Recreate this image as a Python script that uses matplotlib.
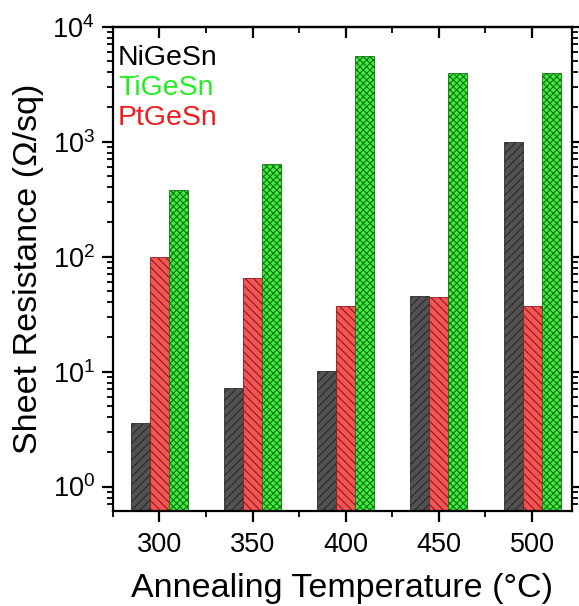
import numpy as np
import matplotlib
matplotlib.use('Agg')
import matplotlib.pyplot as plt
from matplotlib.ticker import FixedLocator, NullFormatter

# === Data ===
temps = ['300', '350', '400', '450', '500']
ni_gesn = [3.6, 7.2, 10.1, 45.8, 990]
pt_gesn = [100, 65, 37.3, 44.6, 37]
ti_gesn = [380, 640, 5560, 3940, 3940]

series_names = ['NiGeSn', 'TiGeSn', 'PtGeSn']
name_colors = ['#000000', '#22ee22', '#ee1c1c']

plt.rcParams['font.family'] = ['Liberation Sans', 'DejaVu Sans']
plt.rcParams['hatch.linewidth'] = 0.8

fig = plt.figure(figsize=(5.79, 6.06), dpi=100)
ax = fig.add_axes([0.195, 0.157, 0.793, 0.799])

x = np.arange(len(temps))
w = 0.204

ax.bar(x - w, ni_gesn, w, color='#525252', edgecolor='#2a2a2a', hatch='////', linewidth=0.6)
ax.bar(x, pt_gesn, w, color='#f45454', edgecolor='#8a1a1a', hatch='\\\\\\\\', linewidth=0.6)
ax.bar(x + w, ti_gesn, w, color='#3cf03c', edgecolor='#157015', hatch='xxxxx', linewidth=0.6)

ax.set_yscale('log')
ax.set_ylim(0.615, 1e4)
ax.set_xlim(-0.5, 4.43)

minor_x = np.arange(-0.5, 4.5, 1.0)
ax.set_xticks(x)
ax.set_xticklabels(temps)
ax.xaxis.set_minor_locator(FixedLocator(minor_x))

for s in ax.spines.values():
    s.set_linewidth(1.6)

ax.tick_params(axis='both', which='major', labelsize=19.5, width=1.6, length=8)
ax.tick_params(axis='both', which='minor', width=1.3, length=4.5)
ax.tick_params(axis='y', which='both', left=True, right=True, direction='out')
ax.tick_params(axis='x', which='both', bottom=True, direction='out')
ax.tick_params(axis='x', which='major', pad=7)
ax.tick_params(axis='y', which='major', pad=5)

# top ticks point inward
top = ax.secondary_xaxis('top')
top.set_xticks(x)
top.xaxis.set_minor_locator(FixedLocator(minor_x))
top.xaxis.set_major_formatter(NullFormatter())
top.tick_params(which='major', direction='in', width=1.6, length=8)
top.tick_params(which='minor', direction='in', width=1.3, length=4.5)
top.spines['top'].set_linewidth(1.6)

ax.set_xlabel('Annealing Temperature (°C)', fontsize=24.5, labelpad=11)
ax.set_ylabel('Sheet Resistance (Ω/sq)', fontsize=24.5, labelpad=6)

# legend as coloured text
for i, (name, c) in enumerate(zip(series_names, name_colors)):
    ax.text(0.011, 0.936 - i * 0.0625, name, color=c, fontsize=20.5,
            transform=ax.transAxes, va='center', ha='left')

fig.savefig('out.png', dpi=100)
